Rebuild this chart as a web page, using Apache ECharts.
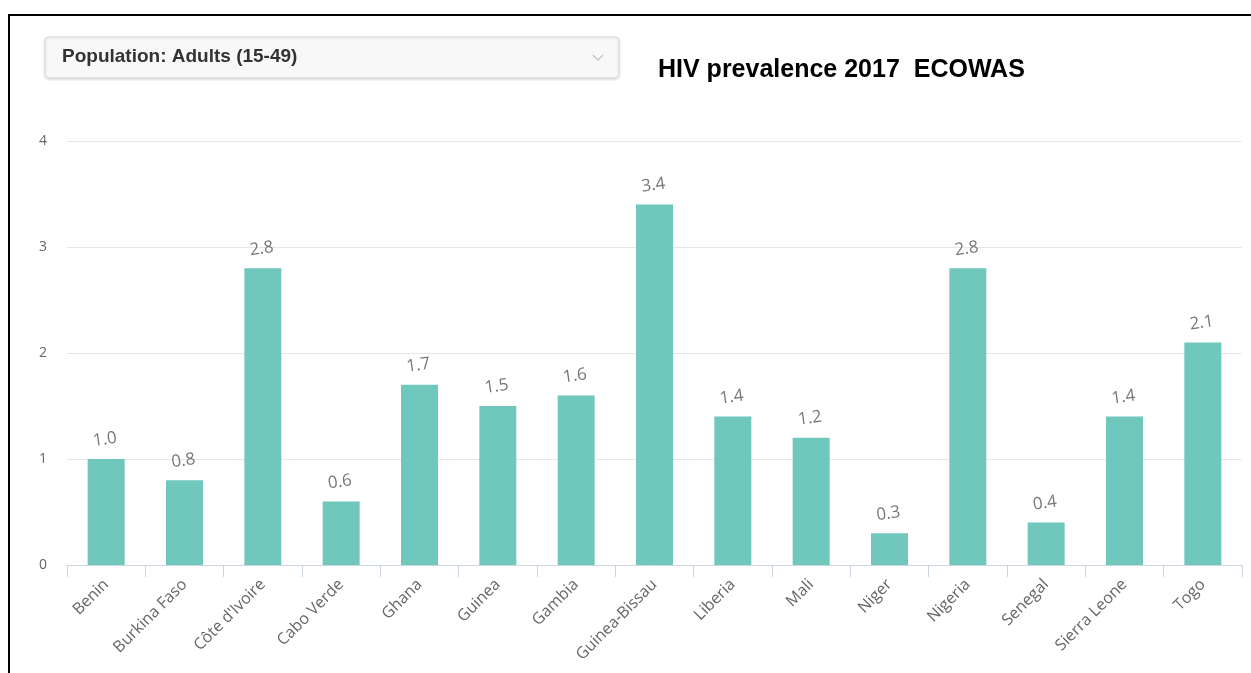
<!DOCTYPE html>
<html>
<head>
<meta charset="utf-8">
<script src="https://cdn.jsdelivr.net/npm/echarts@6/dist/echarts.min.js"></script>
<style>
html,body{margin:0;padding:0;background:#fff;}
#frame{position:absolute;left:8px;top:14px;width:1243px;height:659px;border-top:2px solid #000;border-left:2px solid #000;box-sizing:border-box;}
#chart{position:absolute;left:0;top:0;width:1251px;height:673px;}
</style>
</head>
<body>
<div id="frame"></div>
<div id="chart"></div>
<script>
const countries = ["Benin","Burkina Faso","Côte d'Ivoire","Cabo Verde","Ghana","Guinea","Gambia","Guinea-Bissau","Liberia","Mali","Niger","Nigeria","Senegal","Sierra Leone","Togo"];
const prevalence = [1.0,0.8,2.8,0.6,1.7,1.5,1.6,3.4,1.4,1.2,0.3,2.8,0.4,1.4,2.1];
const yTicks = [0,1,2,3,4];
const titleText = "HIV prevalence 2017  ECOWAS";
const dropdownText = "Population: Adults (15-49)";

const chart = echarts.init(document.getElementById('chart'), null, {renderer:'canvas'});
chart.setOption({
  animation:false,
  backgroundColor:'transparent',
  grid:{left:67,right:9,top:141,bottom:108,containLabel:false},
  xAxis:{
    type:'category',
    data:countries,
    axisLine:{lineStyle:{color:'#ccd6e0',width:1}},
    axisTick:{show:true,length:12,lineStyle:{color:'#ccd6e0'}},
    axisLabel:{rotate:45,color:'#666',fontSize:16,fontFamily:'Open Sans',margin:17,interval:0}
  },
  yAxis:{
    type:'value',
    min:yTicks[0],max:yTicks[yTicks.length-1],interval:1,
    axisLine:{show:false},
    axisTick:{show:false},
    splitLine:{lineStyle:{color:'#e6e6e6',width:1}},
    axisLabel:{color:'#666',fontSize:14,fontFamily:'Open Sans',margin:20}
  },
  series:[{
    type:'bar',
    data:prevalence,
    barWidth:37,
    itemStyle:{color:'#70c8bd'},
    label:{show:true,position:'top',distance:11,rotate:8,color:'#777',fontSize:17,fontFamily:'Open Sans',
      formatter:p=>p.value.toFixed(1)}
  }],
  graphic:[
    {type:'rect',shape:{x:45,y:37,width:574,height:41,r:4},
     style:{fill:'#f8f8f8',stroke:'#d9d9d9',lineWidth:1,shadowBlur:3,shadowColor:'rgba(0,0,0,0.15)',shadowOffsetY:1}},
    {type:'text',x:62,y:57,style:{text:dropdownText,font:'bold 19px "Liberation Sans", Arial',fill:'#333',verticalAlign:'middle'}},
    {type:'polyline',shape:{points:[[593,55],[598,60],[603,55]]},style:{stroke:'#c8c8c8',lineWidth:1.5,fill:null}},
    {type:'text',x:658,y:70,style:{text:titleText,font:'bold 25px "Liberation Sans", Arial',fill:'#000',verticalAlign:'middle'}}
  ]
});
</script>
</body>
</html>
